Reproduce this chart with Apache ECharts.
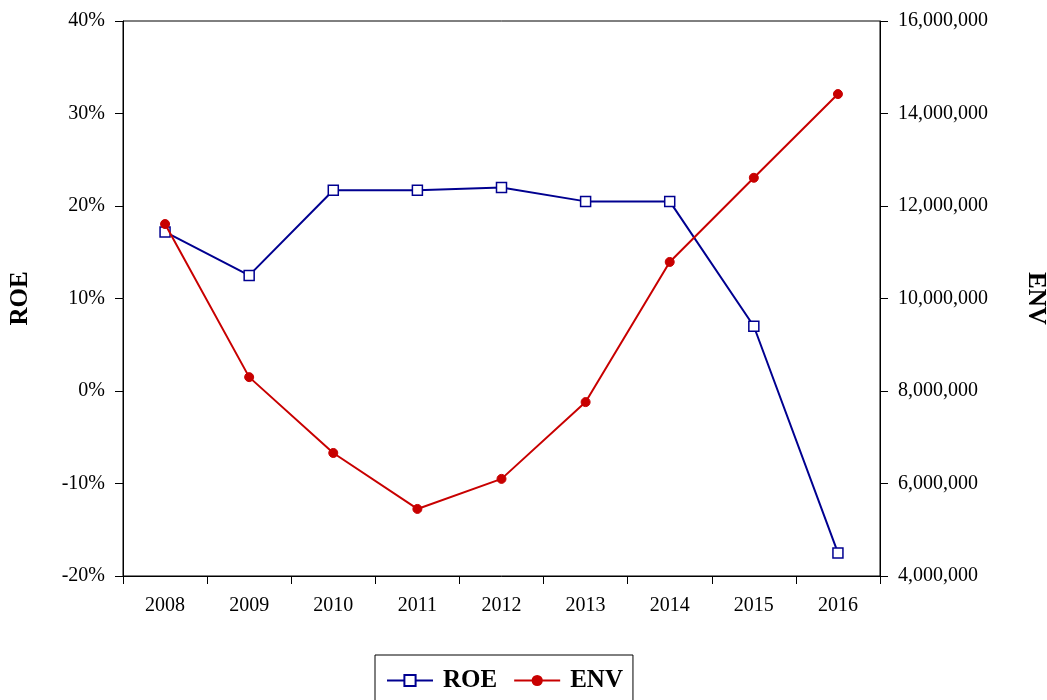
<!DOCTYPE html>
<html>
<head>
<meta charset="utf-8">
<script src="https://cdn.jsdelivr.net/npm/echarts@6/dist/echarts.min.js"></script>
<style>html,body{margin:0;padding:0;background:#fff;}#c{width:1047px;height:700px;}</style>
</head>
<body>
<div id="c"></div>
<script>
const years = ['2008','2009','2010','2011','2012','2013','2014','2015','2016'];
const roe = [17.2, 12.5, 21.7, 21.7, 22.0, 20.5, 20.5, 7.0, -17.5];
const env = [11610000, 8300000, 6660000, 5450000, 6100000, 7760000, 10790000, 12610000, 14420000];

const font = '"Liberation Serif", "Times New Roman", serif';
const chart = echarts.init(document.getElementById('c'), null, {renderer: 'canvas'});
chart.setOption({
  backgroundColor: '#fff',
  animation: false,
  textStyle: {fontFamily: font},
  grid: {left: 123, right: 167, top: 21, bottom: 124, show: true, borderColor: '#000', borderWidth: 1,
         containLabel: false, outerBoundsMode: 'none'},
  legend: {
    top: 655, left: 375,
    padding: [13, 10, 20, 11],
    borderColor: '#000', borderWidth: 1,
    itemWidth: 46, itemHeight: 14, itemGap: 16,
    textStyle: {fontFamily: font, fontSize: 25, fontWeight: 'bold', color: '#000', padding: [0, 0, 0, 5]},
    data: ['ROE', 'ENV']
  },
  xAxis: {
    type: 'category', data: years, boundaryGap: true,
    axisLine: {onZero: false, lineStyle: {color: '#000', width: 1}},
    axisTick: {show: true, length: 8, lineStyle: {color: '#000'}},
    axisLabel: {color: '#000', fontSize: 20, margin: 20, fontFamily: font}
  },
  yAxis: [
    {
      type: 'value', min: -20, max: 40, interval: 10,
      name: 'ROE', nameLocation: 'middle', nameGap: 90, nameRotate: 90,
      nameTextStyle: {fontFamily: font, fontSize: 25, fontWeight: 'bold', color: '#000'},
      axisLine: {show: true, lineStyle: {color: '#000'}},
      axisTick: {show: true, length: 8, lineStyle: {color: '#000'}},
      splitLine: {show: false},
      axisLabel: {color: '#000', fontSize: 20, margin: 18, fontFamily: font, formatter: '{value}%'}
    },
    {
      type: 'value', min: 4000000, max: 16000000, interval: 2000000, position: 'right',
      name: 'ENV', nameLocation: 'middle', nameGap: 143, nameRotate: -90,
      nameTextStyle: {fontFamily: font, fontSize: 25, fontWeight: 'bold', color: '#000'},
      axisLine: {show: true, lineStyle: {color: '#000'}},
      axisTick: {show: true, length: 8, lineStyle: {color: '#000'}},
      splitLine: {show: false},
      axisLabel: {color: '#000', fontSize: 20, margin: 18, fontFamily: font,
        formatter: v => v.toLocaleString('en-US')}
    }
  ],
  series: [
    {
      name: 'ROE', type: 'line', yAxisIndex: 0, data: roe,
      symbol: 'rect', symbolSize: 10,
      itemStyle: {color: '#fff', borderColor: '#000090', borderWidth: 1.5},
      lineStyle: {color: '#000090', width: 2},
      z: 2
    },
    {
      name: 'ENV', type: 'line', yAxisIndex: 1, data: env,
      symbol: 'circle', symbolSize: 9,
      itemStyle: {color: '#c80000', borderColor: '#c80000'},
      lineStyle: {color: '#c80000', width: 2},
      z: 3
    }
  ]
});
</script>
</body>
</html>
